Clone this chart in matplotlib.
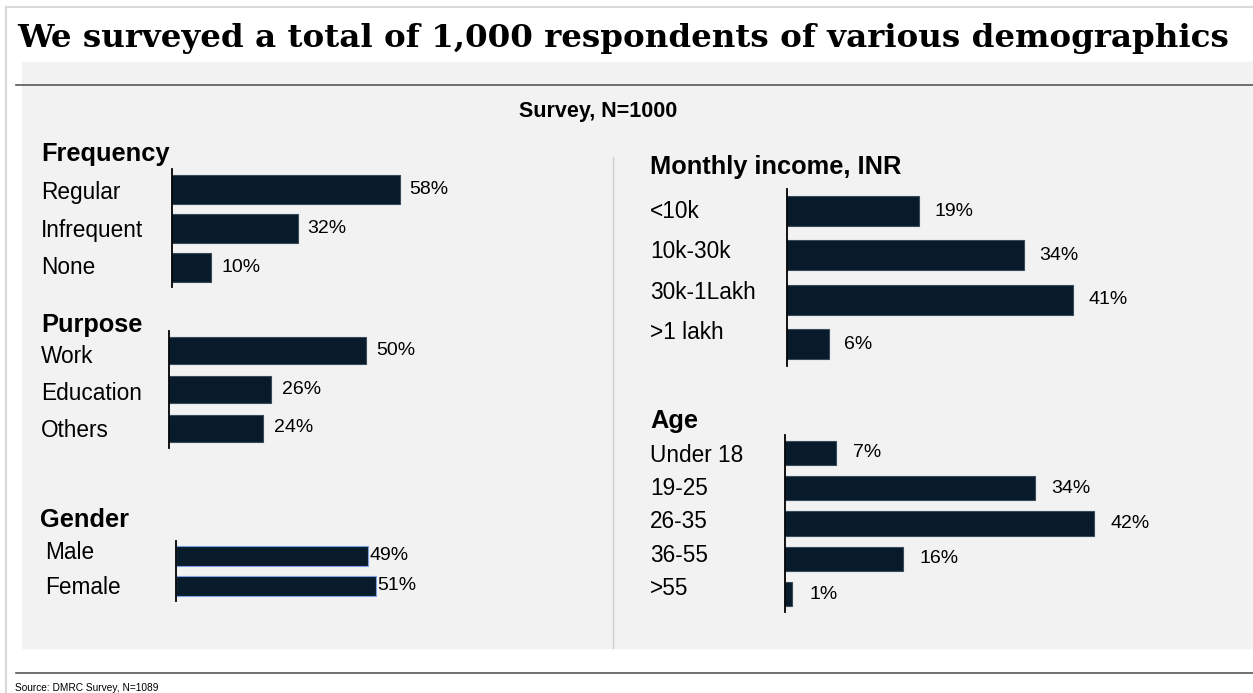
import matplotlib
matplotlib.use("Agg")
import matplotlib.pyplot as plt

plt.rcParams['font.family'] = ['Liberation Sans', 'DejaVu Sans']

# data
freq_cats = ["Regular", "Infrequent", "None"]
freq_vals = [58, 32, 10]
purpose_cats = ["Work", "Education", "Others"]
purpose_vals = [50, 26, 24]
gender_cats = ["Male", "Female"]
gender_vals = [49, 51]
income_cats = ["<10k", "10k-30k", "30k-1Lakh", ">1 lakh"]
income_vals = [19, 34, 41, 6]
age_cats = ["Under 18", "19-25", "26-35", "36-55", ">55"]
age_vals = [7, 34, 42, 16, 1]

W, H = 1253, 693
NAVY = "#071b2b"
PANEL = "#f2f2f2"

fig = plt.figure(figsize=(W / 100, H / 100), dpi=100)
fig.patch.set_facecolor("white")


def fx(x):
    return x / W


def fy(y):
    return 1 - y / H


# background pieces, drawn on a full-figure axes in pixel units
bg = fig.add_axes([0, 0, 1, 1])
bg.set_xlim(0, W)
bg.set_ylim(H, 0)
bg.axis("off")
bg.add_patch(plt.Rectangle((22, 62), W - 22, 586, color=PANEL, zorder=0))
bg.plot([6, 6], [7, H], color="#d9d9d9", lw=1.5)
bg.plot([6, W], [7, 7], color="#d9d9d9", lw=1.5)
bg.plot([16, W], [85, 85], color="#595959", lw=1.2)
bg.plot([16, W], [673, 673], color="#595959", lw=1.2)
bg.plot([613, 613], [157, 648], color="#d0d0d0", lw=1)

title = fig.text(fx(17), fy(47), "We surveyed a total of 1,000 respondents of various demographics",
                 family="DejaVu Serif", weight="bold", fontsize=26, va="baseline")
# stretch title to the width of the reference
r = fig.canvas.get_renderer()
w = title.get_window_extent(r).width
title.set_fontsize(26 * 1211 / w)

fig.text(fx(598), fy(112), "Survey, N=1000", weight="bold", fontsize=15.5,
         ha="center", va="center")
fig.text(fx(15), fy(688), "Source: DMRC Survey, N=1089", fontsize=7.3, va="center")


def panel(head, head_xy, cats, vals, axis_x, top, pitch, bar_h, scale,
          lab_x, lab_y0, lab_pitch, pad, edge="#3a4a5a"):
    n = len(cats)
    width_px = 420
    ax = fig.add_axes([fx(axis_x), fy(top + n * pitch), width_px / W, n * pitch / H])
    ax.set_xlim(0, width_px / scale)
    ax.set_ylim(n - 0.5, -0.5)
    ax.patch.set_alpha(0)
    bars = ax.barh(range(n), vals, height=bar_h / pitch, color=NAVY,
                   edgecolor=edge, linewidth=0.8)
    ax.bar_label(bars, labels=[f"{v}%" for v in vals], padding=pad, fontsize=14)
    for s in ["top", "right", "bottom"]:
        ax.spines[s].set_visible(False)
    ax.spines["left"].set_linewidth(1.3)
    ax.set_xticks([])
    ax.set_yticks([])
    fig.text(fx(head_xy[0]), fy(head_xy[1] + 1), head, weight="bold", fontsize=18.3, va="center")
    for i, c in enumerate(cats):
        fig.text(fx(lab_x), fy(lab_y0 + 1.5 + i * lab_pitch), c, fontsize=16.3, va="center")


panel("Frequency", (41, 153), freq_cats, freq_vals, 172, 169.5, 39.3, 29, 3.93,
      41, 191, 37.5, 7)
panel("Purpose", (41, 324), purpose_cats, purpose_vals, 169, 330.5, 39, 27, 3.93,
      41, 355, 37, 8)
panel("Gender", (40, 519), gender_cats, gender_vals, 176, 541, 30, 20, 3.92,
      45, 551, 35, 1, edge="#7f9fe0")
panel("Monthly income, INR", (650, 166), income_cats, income_vals, 787, 189, 44.3, 30, 6.97,
      650, 210, 40.3, 11)
panel("Age", (650, 420), age_cats, age_vals, 785, 435, 35.4, 24, 7.35,
      650, 454, 33.25, 12)

fig.savefig("out.png", dpi=100, facecolor="white")
